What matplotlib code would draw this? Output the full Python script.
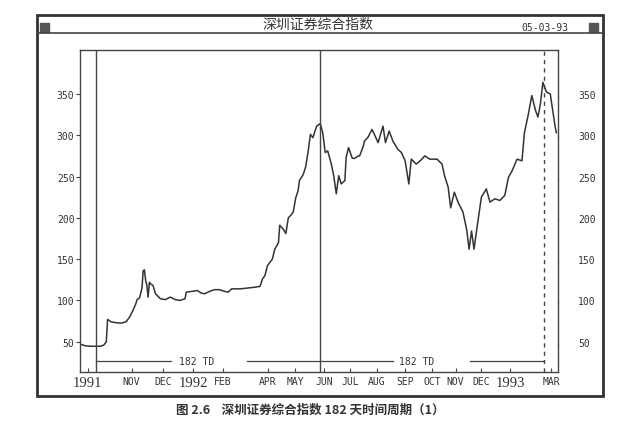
import matplotlib.pyplot as plt
from matplotlib.patches import Rectangle
from matplotlib.lines import Line2D

plt.rcParams['font.family'] = ['Noto Sans CJK SC', 'DejaVu Sans']

# 数据: 交易日序号 (0 = 第一条竖线) 与 指数值
days = [-13, -9, -4, 3, 6, 8, 9, 12, 16, 20, 24, 27, 30, 32, 33, 35, 37, 38, 39,
        40, 41, 42, 43, 44, 46, 48, 52, 56, 60, 64, 68, 72, 73, 78, 82, 85, 88,
        92, 96, 100, 104, 107, 110, 117, 123, 129, 133, 135, 137, 139, 143, 145,
        148, 149, 152, 154, 156, 158, 160, 162, 164, 165, 168, 170, 172, 174,
        176, 179, 182, 184, 186, 188, 191, 193, 195, 197, 199, 202, 203, 205,
        208, 210, 213, 214, 217, 218, 221, 224, 226, 229, 233, 235, 238, 241,
        245, 248, 251, 254, 256, 260, 264, 267, 271, 277, 281, 283, 286, 288,
        291, 294, 298, 301, 303, 305, 307, 310, 313, 317, 320, 324, 328, 332,
        335, 338, 342, 346, 348, 351, 354, 357, 359, 361, 363, 366, 369, 371,
        373, 374]
index = [47, 45, 44.5, 44.5, 46, 50, 77, 74, 73, 72.5, 74, 80, 89, 96, 101,
         103, 115, 136, 137, 124, 118, 104, 122, 120, 118, 108, 102, 101, 104,
         101, 100, 102, 110, 111, 112, 109, 108, 111, 113, 113, 111, 110, 114,
         114, 115, 116, 117, 126, 130, 142, 150, 162, 170, 191, 186, 181, 200,
         203, 207, 224, 233, 245, 252, 261, 279, 301, 297, 311, 314, 303, 279,
         281, 265, 250, 229, 251, 241, 245, 273, 285, 272, 272, 275, 275, 287,
         293, 298, 307, 301, 291, 311, 291, 305, 293, 283, 279, 269, 241, 271,
         265, 270, 275, 271, 271, 265, 251, 237, 212, 231, 219, 207, 186, 162,
         184, 162, 194, 225, 235, 219, 223, 221, 227, 249, 257, 271, 269, 303,
         324, 348, 330, 322, 338, 364, 352, 350, 330, 310, 303]

month_pos = [-7, 28.6, 54, 78.5, 102.6, 139.5, 161.4, 185, 206, 228, 251, 273,
             292, 313, 336.5, 370]
month_labels = ['1991', 'NOV', 'DEC', '1992', 'FEB', 'APR', 'MAY', 'JUN', 'JUL',
                'AUG', 'SEP', 'OCT', 'NOV', 'DEC', '1993', 'MAR']
y_ticks = [50, 100, 150, 200, 250, 300, 350]
cycle = 182

W, H = 640, 431
fig = plt.figure(figsize=(W / 100, H / 100), dpi=100)


def fx(px):
    return px / W


def fy(py):
    return 1 - py / H


# 窗口外框与标题栏
fig.add_artist(Rectangle((fx(37), fy(397)), fx(603) - fx(37), fy(16) - fy(397),
                         transform=fig.transFigure, fill=False, lw=2, ec='#333333'))
fig.add_artist(Line2D([fx(37), fx(603)], [fy(34), fy(34)],
                      transform=fig.transFigure, lw=1.2, color='#444444'))
for x0 in (40, 589):
    fig.add_artist(Rectangle((fx(x0), fy(33)), fx(9), 9 / H,
                             transform=fig.transFigure, color='#555555'))
fig.text(fx(318), fy(25), '深圳证券综合指数', ha='center', va='center', fontsize=10,
         color='#333333')
fig.text(fx(545), fy(28), '05-03-93', ha='center', va='center', fontsize=7,
         family='DejaVu Sans Mono', color='#333333')
fig.text(fx(310), fy(410), '图 2.6    深圳证券综合指数 182 天时间周期（1）',
         ha='center', va='center', fontsize=9, fontweight='bold', color='#333333')

ax = fig.add_axes([fx(80), fy(372.7), fx(558) - fx(80), fy(50.7) - fy(372.7)])
ax.plot(days, index, color='#333333', lw=1.1)

ax.set_xlim(-13.4, 375.3)
ax.set_ylim(13.7, 403.5)

# 182 天周期竖线
ax.axvline(0, color='#444444', lw=1)
ax.axvline(cycle, color='#444444', lw=1)
ax.axvline(2 * cycle, color='#444444', lw=1, ls=(0, (3, 3)))

# 182 TD 标注
ax.plot([0, 61], [27, 27], color='#444444', lw=0.9)
ax.plot([122, cycle], [27, 27], color='#444444', lw=0.9)
ax.text(81.5, 27, '182 TD', ha='center', va='center', fontsize=7,
        family='DejaVu Sans Mono', color='#333333')
ax.plot([cycle, 241], [27, 27], color='#444444', lw=0.9)
ax.plot([304, 2 * cycle], [27, 27], color='#444444', lw=0.9)
ax.text(260, 27, '182 TD', ha='center', va='center', fontsize=7,
        family='DejaVu Sans Mono', color='#333333')

for s in ax.spines.values():
    s.set_color('#444444')
    s.set_linewidth(1)

ax.set_yticks(y_ticks)
ax.set_yticklabels([str(v) for v in y_ticks], family='DejaVu Sans Mono',
                   fontsize=7, color='#333333')
ax.tick_params(axis='y', left=True, right=True, labelleft=True, labelright=True,
               direction='out', length=3, pad=1, color='#444444')
for t in ax.yaxis.get_major_ticks():
    t.tick2line.set_marker(3)
    t.label2.set_x(1.03)

ax.set_xticks(month_pos)
ax.set_xticklabels(month_labels)
for lab in ax.get_xticklabels():
    if lab.get_text().isdigit():
        lab.set_family('Liberation Serif')
        lab.set_fontsize(10.5)
    else:
        lab.set_family('DejaVu Sans Mono')
        lab.set_fontsize(7)
    lab.set_color('#333333')
ax.tick_params(axis='x', direction='in', length=3, pad=3, color='#444444')

fig.savefig('out.png', dpi=100)
